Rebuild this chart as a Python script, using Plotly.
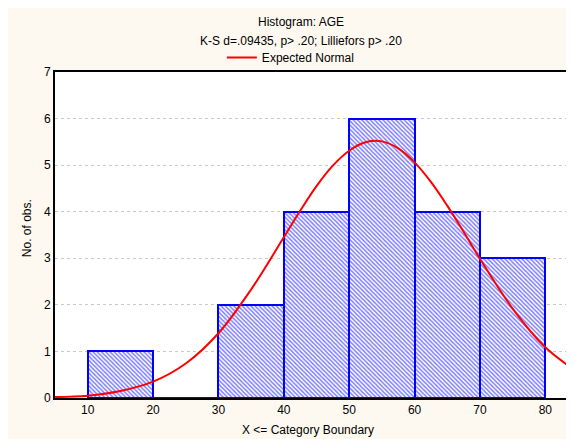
import plotly.graph_objects as go

# Histogram bins (upper boundaries) and counts
bin_left = [10, 20, 30, 40, 50, 60, 70]
bin_right = [20, 30, 40, 50, 60, 70, 80]
counts = [1, 0, 2, 4, 6, 4, 3]

# Expected normal curve
curve_x = [5, 10, 15, 20, 25, 30, 35, 40, 42.5, 45, 47.5, 50, 52.5, 55, 57.5,
           60, 62.5, 65, 67.5, 70, 75, 80, 85]
curve_y = [0.02, 0.05, 0.15, 0.35, 0.74, 1.39, 2.33, 3.45, 4.02, 4.55, 4.99, 5.31, 5.49,
           5.51, 5.36, 5.06, 4.64, 4.13, 3.57, 2.99, 1.92, 1.09, 0.55]

x_ticks = [10, 20, 30, 40, 50, 60, 70, 80]
y_ticks = [0, 1, 2, 3, 4, 5, 6, 7]

centers = [(a + b) / 2 for a, b in zip(bin_left, bin_right)]
widths = [b - a for a, b in zip(bin_left, bin_right)]

fig = go.Figure()
fig.add_trace(go.Bar(
    x=centers, y=counts, width=widths,
    marker=dict(color="white",
                line=dict(color="#0000ff", width=2),
                pattern=dict(shape="\\", fgcolor="#0000ff", bgcolor="white",
                             size=3, solidity=0.5)),
    showlegend=False, hoverinfo="skip",
))
fig.add_trace(go.Scatter(
    x=curve_x, y=curve_y, mode="lines", name="Expected Normal",
    line=dict(color="#ff0000", width=2, shape="spline", smoothing=1.0),
))

font = dict(family="Liberation Sans, Arial, sans-serif", size=12, color="#000000")

fig.update_layout(
    width=574, height=439,
    margin=dict(l=47, r=4, t=64, b=49, autoexpand=False),
    paper_bgcolor="#fdf9f0",
    plot_bgcolor="white",
    font=font,
    bargap=0,
    showlegend=True,
    legend=dict(orientation="h", x=0.451, xanchor="center", y=1.0, yanchor="bottom",
                bgcolor="rgba(0,0,0,0)", font=font, itemwidth=30,
                tracegroupgap=0),
    annotations=[
        dict(text="Histogram: AGE", xref="paper", yref="paper", x=0.470, y=1.0,
             xanchor="center", yanchor="bottom", yshift=41, showarrow=False, font=font),
        dict(text="K-S d=.09435, p> .20; Lilliefors p> .20", xref="paper", yref="paper",
             x=0.470, y=1.0, xanchor="center", yanchor="bottom", yshift=22,
             showarrow=False, font=font),
        dict(text="X <= Category Boundary", xref="paper", yref="paper", x=0.483, y=0,
             xanchor="center", yanchor="middle", yshift=-32, showarrow=False, font=font),
        dict(text="No. of obs.", xref="paper", yref="paper", x=0, y=0.521,
             xanchor="center", yanchor="middle", xshift=-28, textangle=-90,
             showarrow=False, font=font),
    ],
    xaxis=dict(range=[5, 85], tickvals=x_ticks, ticks="", showgrid=False,
               showline=True, linecolor="black", linewidth=2, mirror=True,
               zeroline=False, automargin=False, tickfont=font),
    yaxis=dict(range=[0, 7], tickvals=y_ticks, ticks="", showgrid=True,
               gridcolor="#c8c8c8", griddash="dot", gridwidth=1,
               showline=True, linecolor="black", linewidth=2, zeroline=False,
               automargin=False, tickfont=font),
)

fig.write_html("out.html")
